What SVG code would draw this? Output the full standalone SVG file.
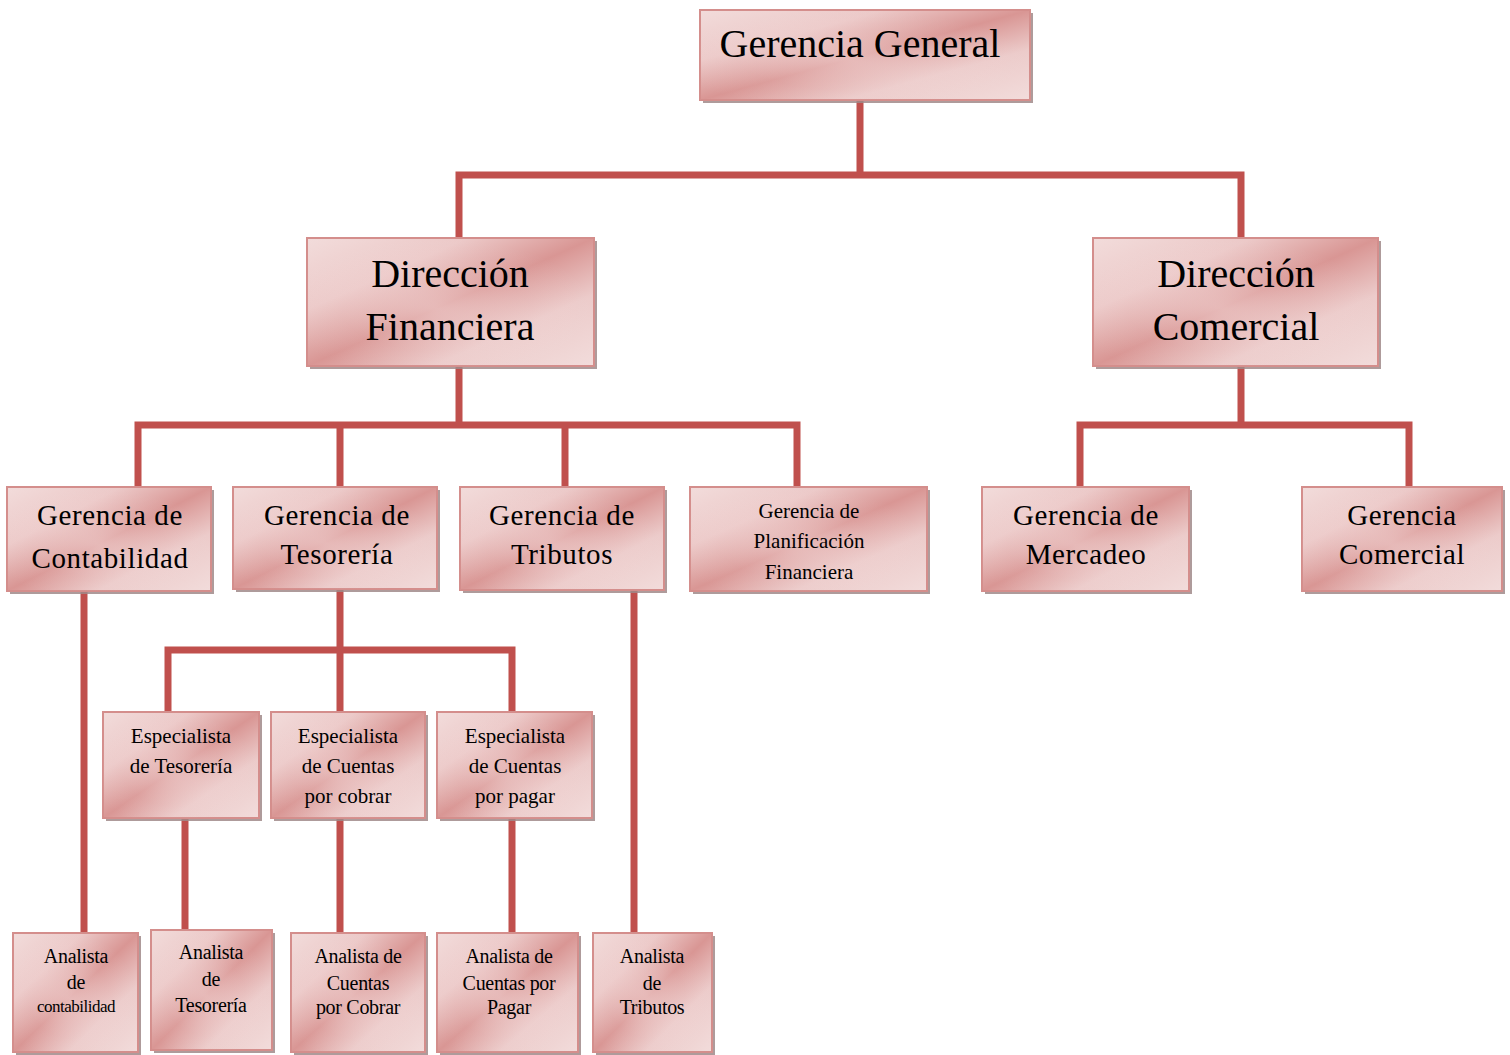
<svg xmlns="http://www.w3.org/2000/svg" width="1510" height="1055" viewBox="0 0 1510 1055">
<defs>
<linearGradient id="g" x1="0" y1="0" x2="1" y2="1">
<stop offset="0" stop-color="#f2dcdb"/>
<stop offset="0.28" stop-color="#ecc9c8"/>
<stop offset="0.5" stop-color="#d99694"/>
<stop offset="0.72" stop-color="#eccbca"/>
<stop offset="1" stop-color="#f2dcdb"/>
</linearGradient>
<radialGradient id="rg" cx="0.45" cy="0.55" r="0.55">
<stop offset="0" stop-color="#fbeeee" stop-opacity="0.4"/>
<stop offset="0.6" stop-color="#fbeeee" stop-opacity="0.1"/>
<stop offset="1" stop-color="#fbeeee" stop-opacity="0"/>
</radialGradient>
</defs>
<style>
.c{stroke:#c0504d;stroke-width:7;fill:none;stroke-linecap:square}
.sh{fill:#a08a8a;opacity:0.85}
.b{fill:url(#g);stroke:#d48e8c;stroke-width:2}
.o{fill:url(#rg)}
text{font-family:"Liberation Serif","Times New Roman",serif;fill:#000;text-anchor:middle}
.t1{font-size:40px}
.t2{font-size:29px;letter-spacing:0.6px}
.t3{font-size:21px}
.t4{font-size:20px;letter-spacing:-0.3px}
.t5{font-size:17px;letter-spacing:-0.5px}
</style>
<rect width="1510" height="1055" fill="#ffffff"/>
<g id="connectors">
<path class="c" d="M860 100V175M459 175H1241M459 175V238M1241 175V238"/>
<path class="c" d="M459 366V425M138 425H797M138 425V487M340 425V487M565 425V487M797 425V487"/>
<path class="c" d="M1241 366V425M1080 425H1409M1080 425V487M1409 425V487"/>
<path class="c" d="M84 591V933"/>
<path class="c" d="M340 589V712M168 650H512M168 650V712M512 650V712"/>
<path class="c" d="M634 590V933"/>
<path class="c" d="M185 818V930M340 818V933M512 818V933"/>
</g>
<g id="n-gerencia-general">
<rect class="sh" x="703" y="13" width="330" height="90"/>
<rect class="b" x="700" y="10" width="330" height="90"/><rect class="o" x="700" y="10" width="330" height="90"/>
<text class="t1" x="860" y="57">Gerencia General</text>
</g>
<g id="n-direccion-financiera">
<rect class="sh" x="310" y="241" width="287" height="128"/>
<rect class="b" x="307" y="238" width="287" height="128"/><rect class="o" x="307" y="238" width="287" height="128"/>
<text class="t1" x="450" y="287">Dirección</text>
<text class="t1" x="450" y="340">Financiera</text>
</g>
<g id="n-direccion-comercial">
<rect class="sh" x="1096" y="241" width="285" height="128"/>
<rect class="b" x="1093" y="238" width="285" height="128"/><rect class="o" x="1093" y="238" width="285" height="128"/>
<text class="t1" x="1236" y="287">Dirección</text>
<text class="t1" x="1236" y="340">Comercial</text>
</g>
<g id="n-gerencia-contabilidad">
<rect class="sh" x="10" y="490" width="204" height="104"/>
<rect class="b" x="7" y="487" width="204" height="104"/><rect class="o" x="7" y="487" width="204" height="104"/>
<text class="t2" x="110" y="525">Gerencia de</text>
<text class="t2" x="110" y="568">Contabilidad</text>
</g>
<g id="n-gerencia-tesoreria">
<rect class="sh" x="236" y="490" width="204" height="102"/>
<rect class="b" x="233" y="487" width="204" height="102"/><rect class="o" x="233" y="487" width="204" height="102"/>
<text class="t2" x="337" y="525">Gerencia de</text>
<text class="t2" x="337" y="564">Tesorería</text>
</g>
<g id="n-gerencia-tributos">
<rect class="sh" x="463" y="490" width="204" height="103"/>
<rect class="b" x="460" y="487" width="204" height="103"/><rect class="o" x="460" y="487" width="204" height="103"/>
<text class="t2" x="562" y="525">Gerencia de</text>
<text class="t2" x="562" y="564">Tributos</text>
</g>
<g id="n-gerencia-planificacion">
<rect class="sh" x="693" y="490" width="237" height="104"/>
<rect class="b" x="690" y="487" width="237" height="104"/><rect class="o" x="690" y="487" width="237" height="104"/>
<text class="t3" x="809" y="518">Gerencia de</text>
<text class="t3" x="809" y="548">Planificación</text>
<text class="t3" x="809" y="579">Financiera</text>
</g>
<g id="n-gerencia-mercadeo">
<rect class="sh" x="985" y="490" width="207" height="104"/>
<rect class="b" x="982" y="487" width="207" height="104"/><rect class="o" x="982" y="487" width="207" height="104"/>
<text class="t2" x="1086" y="525">Gerencia de</text>
<text class="t2" x="1086" y="564">Mercadeo</text>
</g>
<g id="n-gerencia-comercial">
<rect class="sh" x="1305" y="490" width="200" height="104"/>
<rect class="b" x="1302" y="487" width="200" height="104"/><rect class="o" x="1302" y="487" width="200" height="104"/>
<text class="t2" x="1402" y="525">Gerencia</text>
<text class="t2" x="1402" y="564">Comercial</text>
</g>
<g id="n-especialista-tesoreria">
<rect class="sh" x="106" y="715" width="156" height="106"/>
<rect class="b" x="103" y="712" width="156" height="106"/><rect class="o" x="103" y="712" width="156" height="106"/>
<text class="t3" x="181" y="743">Especialista</text>
<text class="t3" x="181" y="773">de Tesorería</text>
</g>
<g id="n-especialista-cobrar">
<rect class="sh" x="274" y="715" width="154" height="106"/>
<rect class="b" x="271" y="712" width="154" height="106"/><rect class="o" x="271" y="712" width="154" height="106"/>
<text class="t3" x="348" y="743">Especialista</text>
<text class="t3" x="348" y="773">de Cuentas</text>
<text class="t3" x="348" y="803">por cobrar</text>
</g>
<g id="n-especialista-pagar">
<rect class="sh" x="440" y="715" width="155" height="106"/>
<rect class="b" x="437" y="712" width="155" height="106"/><rect class="o" x="437" y="712" width="155" height="106"/>
<text class="t3" x="515" y="743">Especialista</text>
<text class="t3" x="515" y="773">de Cuentas</text>
<text class="t3" x="515" y="803">por pagar</text>
</g>
<g id="n-analista-contabilidad">
<rect class="sh" x="16" y="936" width="125" height="119"/>
<rect class="b" x="13" y="933" width="125" height="119"/><rect class="o" x="13" y="933" width="125" height="119"/>
<text class="t4" x="76" y="963">Analista</text>
<text class="t4" x="76" y="989">de</text>
<text class="t5" x="76" y="1012">contabilidad</text>
</g>
<g id="n-analista-tesoreria">
<rect class="sh" x="154" y="933" width="121" height="120"/>
<rect class="b" x="151" y="930" width="121" height="120"/><rect class="o" x="151" y="930" width="121" height="120"/>
<text class="t4" x="211" y="959">Analista</text>
<text class="t4" x="211" y="986">de</text>
<text class="t4" x="211" y="1012">Tesorería</text>
</g>
<g id="n-analista-cobrar">
<rect class="sh" x="294" y="936" width="134" height="119"/>
<rect class="b" x="291" y="933" width="134" height="119"/><rect class="o" x="291" y="933" width="134" height="119"/>
<text class="t4" x="358" y="963">Analista de</text>
<text class="t4" x="358" y="990">Cuentas</text>
<text class="t4" x="358" y="1014">por Cobrar</text>
</g>
<g id="n-analista-pagar">
<rect class="sh" x="440" y="936" width="141" height="119"/>
<rect class="b" x="437" y="933" width="141" height="119"/><rect class="o" x="437" y="933" width="141" height="119"/>
<text class="t4" x="509" y="963">Analista de</text>
<text class="t4" x="509" y="990">Cuentas por</text>
<text class="t4" x="509" y="1014">Pagar</text>
</g>
<g id="n-analista-tributos">
<rect class="sh" x="596" y="936" width="119" height="119"/>
<rect class="b" x="593" y="933" width="119" height="119"/><rect class="o" x="593" y="933" width="119" height="119"/>
<text class="t4" x="652" y="963">Analista</text>
<text class="t4" x="652" y="990">de</text>
<text class="t4" x="652" y="1014">Tributos</text>
</g>
</svg>
